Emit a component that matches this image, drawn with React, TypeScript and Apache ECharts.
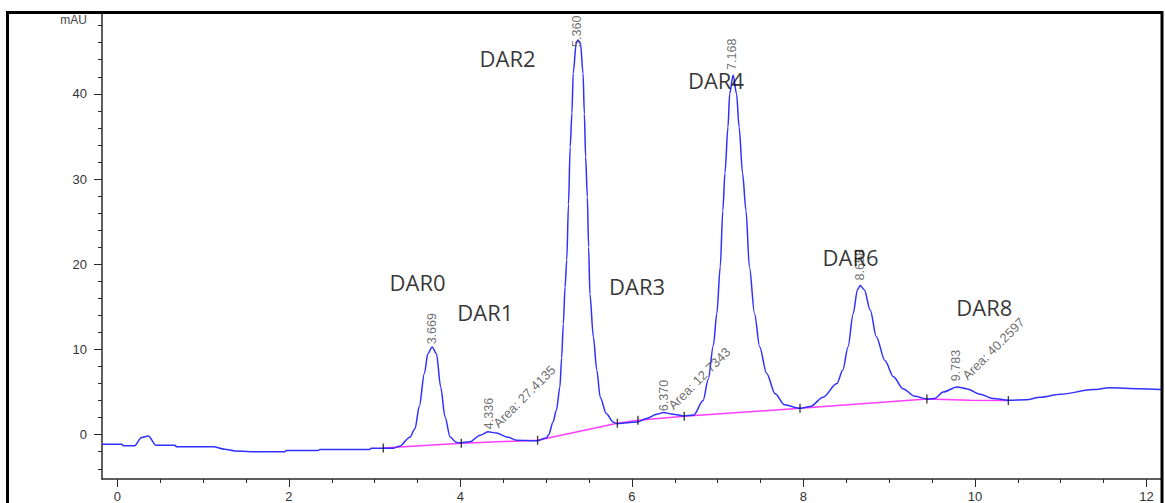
import React, { useEffect, useRef } from "react";
import * as echarts from "echarts";

// Chromatogram trace (retention time in min, signal in mAU)
const traceTime = [
  -0.18, 0.05, 0.07, 0.2, 0.28, 0.36, 0.45, 0.67, 0.69, 1.12, 1.25, 1.37, 1.55, 1.95, 1.97, 2.34, 2.36, 2.94, 2.96,
  3.22, 3.29, 3.41, 3.47, 3.52, 3.58, 3.62, 3.67, 3.72, 3.77, 3.82, 3.88, 3.95, 3.99, 4.11, 4.23, 4.32, 4.42, 4.54,
  4.66, 4.89, 5.0, 5.03, 5.08, 5.12, 5.16, 5.18, 5.2, 5.22, 5.24, 5.26, 5.28, 5.3, 5.315, 5.35, 5.37, 5.4, 5.43,
  5.445, 5.46, 5.48, 5.495, 5.51, 5.55, 5.59, 5.63, 5.7, 5.78, 5.82, 5.95, 6.07, 6.17, 6.29, 6.37, 6.48, 6.6, 6.72,
  6.83, 6.89, 6.95, 6.99, 7.03, 7.06, 7.085, 7.12, 7.14, 7.18, 7.22, 7.25, 7.29, 7.33, 7.37, 7.43, 7.49, 7.57, 7.67,
  7.78, 7.95, 8.08, 8.23, 8.39, 8.46, 8.52, 8.58, 8.63, 8.66, 8.71, 8.78, 8.85, 8.95, 9.05, 9.16, 9.3, 9.44, 9.53,
  9.63, 9.79, 9.9, 10.06, 10.21, 10.39, 10.6, 10.76, 11.0, 11.38, 11.57, 11.92, 12.17,
];
const traceSignal = [
  -1.12, -1.12, -1.3, -1.3, -0.33, -0.14, -1.23, -1.23, -1.43, -1.43, -1.7, -1.9, -2.0, -2.0, -1.86, -1.86, -1.74,
  -1.74, -1.58, -1.58, -1.35, -0.3, 0.7, 3.3, 7.2, 9.5, 10.3, 9.5, 5.6, 2.1, -0.26, -0.9, -0.96, -0.84, -0.06, 0.33,
  0.21, -0.26, -0.65, -0.72, -0.4, 0.0, 1.5, 2.9, 5.6, 9.0, 13.0, 17.3, 20.5, 27.0, 33.8, 37.7, 42.4, 45.9, 46.3,
  45.9, 42.4, 37.7, 32.6, 27.9, 22.0, 16.5, 11.5, 7.6, 4.4, 2.5, 1.5, 1.3, 1.4, 1.5, 1.9, 2.4, 2.6, 2.4, 2.2, 2.3,
  4.0, 6.5, 10.5, 14.2, 19.7, 26.3, 30.7, 36.1, 40.0, 42.2, 40.0, 36.1, 30.7, 26.3, 19.7, 14.2, 10.3, 7.2, 4.8, 3.5,
  3.1, 3.3, 4.4, 6.0, 7.6, 10.3, 14.2, 17.0, 17.5, 17.0, 14.6, 11.5, 8.7, 6.8, 5.4, 4.5, 4.2, 4.25, 5.0, 5.6, 5.4,
  4.75, 4.25, 4.05, 4.1, 4.4, 4.75, 5.3, 5.5, 5.4, 5.3,
];

// Integration baseline
const baselineTime = [3.1, 4.01, 4.9, 5.83, 6.07, 6.61, 7.96, 9.44, 9.94, 10.39];
const baselineSignal = [-1.55, -1.0, -0.65, 1.35, 1.7, 2.15, 3.1, 4.2, 4.05, 4.0];

// Baseline tick markers
const markerTime = [3.1, 4.01, 4.9, 5.83, 6.07, 6.61, 7.96, 9.44, 10.39];
const markerSignal = [-1.55, -1.0, -0.65, 1.35, 1.7, 2.15, 3.1, 4.2, 4.0];

// Retention time annotations
const peakLabels = ["3.669", "4.336", "5.360", "6.370", "7.168", "8.658", "9.783"];
const peakLabelTime = [3.669, 4.336, 5.36, 6.37, 7.168, 8.658, 9.783];
const peakLabelSignal = [10.6, 0.65, 45.5, 2.76, 42.8, 18.1, 6.28];

// Area annotations
const areaLabels = ["Area: 27.4135", "Area: 12.7343", "Area: 40.2597"];
const areaLabelTime = [4.41, 6.45, 9.88];
const areaLabelSignal = [1.1, 3.2, 6.7];

// DAR species labels
const darLabels = ["DAR0", "DAR1", "DAR2", "DAR3", "DAR4", "DAR6", "DAR8"];
const darTime = [3.5, 4.29, 4.55, 6.06, 6.98, 8.55, 10.11];
const darSignal = [17.96, 14.4, 44.2, 17.4, 41.6, 20.9, 15.0];

// Axis ticks
const xMajorTicks = [0, 2, 4, 6, 8, 10, 12];
const xMinorTicks = [0.5, 1, 1.5, 2.5, 3, 3.5, 4.5, 5, 5.5, 6.5, 7, 7.5, 8.5, 9, 9.5, 10.5, 11, 11.5];
const yMajorTicks = [0, 10, 20, 30, 40];
const yMinorTicks = [-4, -2, 2, 4, 6, 8, 12, 14, 16, 18, 22, 24, 26, 28, 32, 34, 36, 38, 42, 44, 46, 48];

const X_MIN = -0.18;
const X_MAX = 12.17;
const Y_MIN = -5.2;
const Y_MAX = 49.6;

export default function App() {
  const ref = useRef<HTMLDivElement>(null);

  useEffect(() => {
    if (!ref.current) return;
    const chart = echarts.init(ref.current, null, { renderer: "svg" });
    const axisColor = "#2a2a2a";
    const labelFont = { fontFamily: "Liberation Sans", fontSize: 13, color: "#333" };

    const xAxisBase = {
      type: "value",
      min: X_MIN,
      max: X_MAX,
      splitLine: { show: false },
    };
    const yAxisBase = {
      type: "value",
      min: Y_MIN,
      max: Y_MAX,
      splitLine: { show: false },
    };

    const option: any = {
      animation: false,
      backgroundColor: "#ffffff",
      grid: { left: 102, right: 4, top: 12, bottom: 24, containLabel: false },
      xAxis: [
        {
          ...xAxisBase,
          axisLine: { show: true, onZero: false, lineStyle: { color: axisColor, width: 1.5 } },
          axisTick: { show: true, customValues: xMajorTicks, length: 8, lineStyle: { color: axisColor, width: 1 } },
          axisLabel: { show: true, customValues: xMajorTicks, margin: 11, ...labelFont },
        },
        {
          ...xAxisBase,
          position: "bottom",
          axisLine: { show: false, onZero: false },
          axisTick: { show: true, customValues: xMinorTicks, length: 4, lineStyle: { color: axisColor, width: 1 } },
          axisLabel: { show: false },
        },
      ],
      yAxis: [
        {
          ...yAxisBase,
          axisLine: { show: true, onZero: false, lineStyle: { color: axisColor, width: 1.5 } },
          axisTick: { show: true, customValues: yMajorTicks, length: 8, lineStyle: { color: axisColor, width: 1 } },
          axisLabel: { show: true, customValues: yMajorTicks, margin: 15, ...labelFont },
        },
        {
          ...yAxisBase,
          position: "left",
          axisLine: { show: false, onZero: false },
          axisTick: { show: true, customValues: yMinorTicks, length: 4, lineStyle: { color: axisColor, width: 1 } },
          axisLabel: { show: false },
        },
      ],
      graphic: [
        {
          type: "rect",
          shape: { x: 7.5, y: 12.5, width: 1154.5, height: 520 },
          style: { fill: "none", stroke: "#000", lineWidth: 3 },
          silent: true,
          z: 100,
        },
        {
          type: "text",
          x: 87,
          y: 20,
          style: {
            text: "mAU",
            fontFamily: "Liberation Sans",
            fontSize: 12,
            fill: "#444",
            align: "right",
            verticalAlign: "middle",
          },
        },
      ],
      series: [
        {
          type: "line",
          data: baselineTime.map((t, i) => [t, baselineSignal[i]]),
          showSymbol: false,
          lineStyle: { color: "#ff3cff", width: 1.5 },
          silent: true,
          z: 2,
        },
        {
          type: "line",
          data: traceTime.map((t, i) => [t, traceSignal[i]]),
          showSymbol: false,
          smooth: 0.3,
          smoothMonotone: "x",
          lineStyle: { color: "#3030ff", width: 1.5 },
          silent: true,
          z: 3,
        },
        {
          type: "scatter",
          data: markerTime.map((t, i) => [t, markerSignal[i]]),
          symbol: "rect",
          symbolSize: [1.4, 9],
          itemStyle: { color: "#111" },
          silent: true,
          z: 4,
        },
        {
          type: "scatter",
          data: peakLabelTime.map((t, i) => [t, peakLabelSignal[i]]),
          symbolSize: 1,
          itemStyle: { color: "rgba(0,0,0,0)" },
          silent: true,
          z: 5,
          label: {
            show: true,
            position: "inside",
            formatter: (p: any) => peakLabels[p.dataIndex],
            rotate: 90,
            align: "left",
            verticalAlign: "middle",
            fontFamily: "Liberation Sans",
            fontSize: 12.5,
            color: "#4a4a4a",
          },
        },
        {
          type: "scatter",
          data: areaLabelTime.map((t, i) => [t, areaLabelSignal[i]]),
          symbolSize: 1,
          itemStyle: { color: "rgba(0,0,0,0)" },
          silent: true,
          z: 5,
          label: {
            show: true,
            position: "inside",
            formatter: (p: any) => areaLabels[p.dataIndex],
            rotate: 45,
            align: "left",
            verticalAlign: "middle",
            fontFamily: "Liberation Sans",
            fontSize: 13,
            color: "#4a4a4a",
          },
        },
        {
          type: "scatter",
          data: darTime.map((t, i) => [t, darSignal[i]]),
          symbolSize: 1,
          itemStyle: { color: "rgba(0,0,0,0)" },
          silent: true,
          z: 10,
          label: {
            show: true,
            position: "inside",
            formatter: (p: any) => darLabels[p.dataIndex],
            align: "center",
            verticalAlign: "middle",
            fontFamily: "Open Sans",
            fontSize: 22,
            color: "#000",
          },
        },
      ],
    };

    chart.setOption(option);
    return () => chart.dispose();
  }, []);

  return (
    <div
      ref={ref}
      style={{ position: "absolute", left: 0, top: 0, width: 1165, height: 503 }}
    />
  );
}
